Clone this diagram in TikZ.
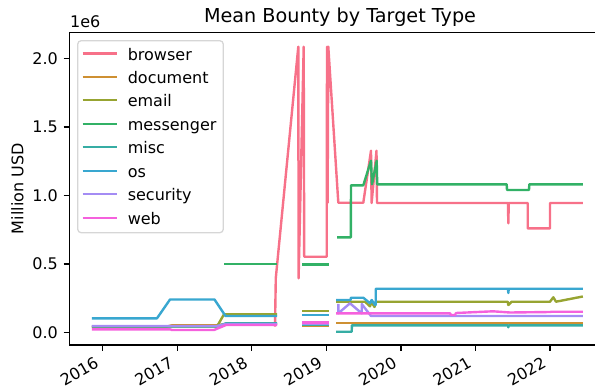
\documentclass[tikz,border=0pt]{standalone}
\usepackage{fontspec}
\setmainfont{DejaVu Sans}
\definecolor{cBrowser}{HTML}{F77189}
\definecolor{cDocument}{HTML}{CE9032}
\definecolor{cEmail}{HTML}{97A431}
\definecolor{cMessenger}{HTML}{32B166}
\definecolor{cMisc}{HTML}{36ADA4}
\definecolor{cOs}{HTML}{39A7D0}
\definecolor{cSecurity}{HTML}{A48CF4}
\definecolor{cWeb}{HTML}{F561DD}
\definecolor{legendedge}{HTML}{D6D6D6}
\begin{document}
\begin{tikzpicture}[x=1pt,y=-1pt,
  series/.style={line width=2.4pt,line join=round,line cap=rect},
  spine/.style={line width=1.28pt,line cap=rect},
  tickmark/.style={line width=1.28pt},
  ticklabel/.style={inner sep=0pt,font=\fontsize{16}{19}\selectfont},
  legtext/.style={inner sep=0pt,anchor=base west,font=\fontsize{16}{19}\selectfont},
]
\useasboundingbox (0,0) rectangle (595,391);
\clip (0,0) rectangle (595,391);

% ---- data series (pixel coordinates, y grows downwards) ----
% browser
\draw[series,cBrowser] (275,325.5) -- (275.8,278) -- (298.3,46.7) -- (298.6,278.3)
  -- (303.7,46.7) -- (304.2,256.7) -- (326.7,256.7) -- (327,46.7) -- (327.6,202.7)
  -- (328.3,46.7) -- (338.3,202.7) -- (363.3,202.7) -- (371,150.7) -- (371.6,203)
  -- (376.5,150.7) -- (377,203) -- (508,203) -- (508.3,223.3) -- (508.8,203)
  -- (527.7,203) -- (527.7,228.3) -- (550,228.3) -- (550,203) -- (581.7,203);
% document
\draw[series,cDocument] (93,327) -- (165,327) -- (172,325.3) -- (216,325.3) -- (226,324) -- (276,324);
\draw[series,cDocument] (303.3,325.7) -- (327.7,325.7);
\draw[series,cDocument] (337.3,322.7) -- (581.7,322.7);
% email
\draw[series,cEmail] (93,326.5) -- (217,326.5) -- (224,314.3) -- (276,314.3);
\draw[series,cEmail] (303.3,311) -- (327.7,311);
\draw[series,cEmail] (337.3,301.7) -- (365,301.7) -- (370,306.3) -- (371.5,302) -- (374.5,307)
  -- (376,301.7) -- (507.7,301.7) -- (508.3,305) -- (511.7,301.7) -- (550,301.7)
  -- (553.3,297.3) -- (556,301.7) -- (581.7,296.7);
% messenger
\draw[series,cMessenger] (225,264) -- (276,264);
\draw[series,cMessenger] (303.3,264.3) -- (327.7,264.3);
\draw[series,cMessenger] (338.3,237.3) -- (350.8,237.3) -- (351,185.3) -- (363.3,185.3)
  -- (371,160.7) -- (372,184.3) -- (376.7,160.7) -- (377.2,184.3) -- (506.7,184.3)
  -- (507,190) -- (529,190) -- (529.3,184.3) -- (581.7,184.3);
% misc
\draw[series,cMisc] (93,326.5) -- (217,326.5) -- (226,323.3) -- (276,323.3);
\draw[series,cMisc] (303.3,324.5) -- (327.7,324.5);
\draw[series,cMisc] (337.3,331.7) -- (351.7,331.7) -- (351.9,325.3) -- (508,325.3)
  -- (508.3,327.3) -- (508.8,325.3) -- (581.7,325.3);
% os
\draw[series,cOs] (93,318.3) -- (157,318.3) -- (170,299.5) -- (214.5,299.5) -- (225.5,316) -- (276,316);
\draw[series,cOs] (303.3,314.7) -- (327.7,314.7);
\draw[series,cOs] (337.3,300) -- (350.7,300) -- (350.9,297.7) -- (363.3,297.7) -- (370,303.3)
  -- (371.7,300) -- (375,305) -- (375.7,305) -- (375.8,288.7) -- (508,288.7)
  -- (508.3,293) -- (508.8,288.7) -- (581.7,288.7);
% security
\draw[series,cSecurity] (93,326) -- (217,326) -- (226,324) -- (276,324);
\draw[series,cSecurity] (303.3,323.7) -- (327.7,323.7);
\draw[series,cSecurity] (338.3,305) -- (338.3,313.3) -- (350,303.3) -- (361.7,313.3)
  -- (361.7,304) -- (371,316) -- (581.7,316);
% web
\draw[series,cWeb] (93,329.3) -- (170,329.3) -- (172,330) -- (214,330) -- (226,325) -- (276,325);
\draw[series,cWeb] (303.3,322.3) -- (327.7,322.3);
\draw[series,cWeb] (337.3,313.3) -- (450,313.3) -- (451,315) -- (455,315) -- (456,313)
  -- (493,311.3) -- (510,312.5) -- (550,312) -- (552,311.7) -- (581.7,311.7);

% ---- axes frame ----
\draw[spine] (69.3,32.3) -- (69.3,345);
\draw[spine] (69.3,345) -- (606,345);
\draw[spine] (69.3,32.3) -- (606,32.3);
\draw[spine] (606,32.3) -- (606,345);

% ---- y ticks ----
\foreach \yy/\lab in {58.3/2.0,126.9/1.5,195.5/1.0,264.1/0.5,332.7/0.0}{
  \draw[tickmark] (63.7,\yy) -- (69.3,\yy);
  \node[ticklabel,anchor=east] (yt\lab) at (58,\yy) {\lab};
}
% ---- x ticks ----
\foreach \xx/\lab in {102.7/2016,177.25/2017,251.8/2018,326.35/2019,400.9/2020,475.45/2021,550.0/2022}{
  \draw[tickmark] (\xx,345) -- (\xx,350.6);
  \node[ticklabel,rotate=30,anchor=south east] (xt\lab) at (\xx-2.5,366.5) {\lab};
}

% ---- labels ----
\node[inner sep=0pt,anchor=base,font=\fontsize{19.2}{23}\selectfont] (title) at (340,22.7) {Mean Bounty by Target Type};
\node[inner sep=0pt,anchor=base west,font=\fontsize{16}{19}\selectfont] (offset) at (70,27.3) {1e6};
\node[inner sep=0pt,anchor=base,rotate=90,font=\fontsize{16}{19}\selectfont] (ylabel) at (23.3,188.7) {Million USD};

% ---- legend ----
\draw[line width=1.28pt,draw=legendedge,fill=white,fill opacity=0.8,rounded corners=3.5pt]
  (77.7,40.7) rectangle (223.3,232.7);
\foreach \i/\name/\col in {0/browser/cBrowser,1/document/cDocument,2/email/cEmail,
  3/messenger/cMessenger,4/misc/cMisc,5/os/cOs,6/security/cSecurity,7/web/cWeb}{
  \pgfmathsetmacro{\ry}{53.3+23.49*\i}
  \draw[series,line cap=butt,\col] (82.7,\ry) -- (116.7,\ry);
  \node[legtext] (leg\name) at (127.6,\ry+6.7) {\name};
}
\end{tikzpicture}
\end{document}
